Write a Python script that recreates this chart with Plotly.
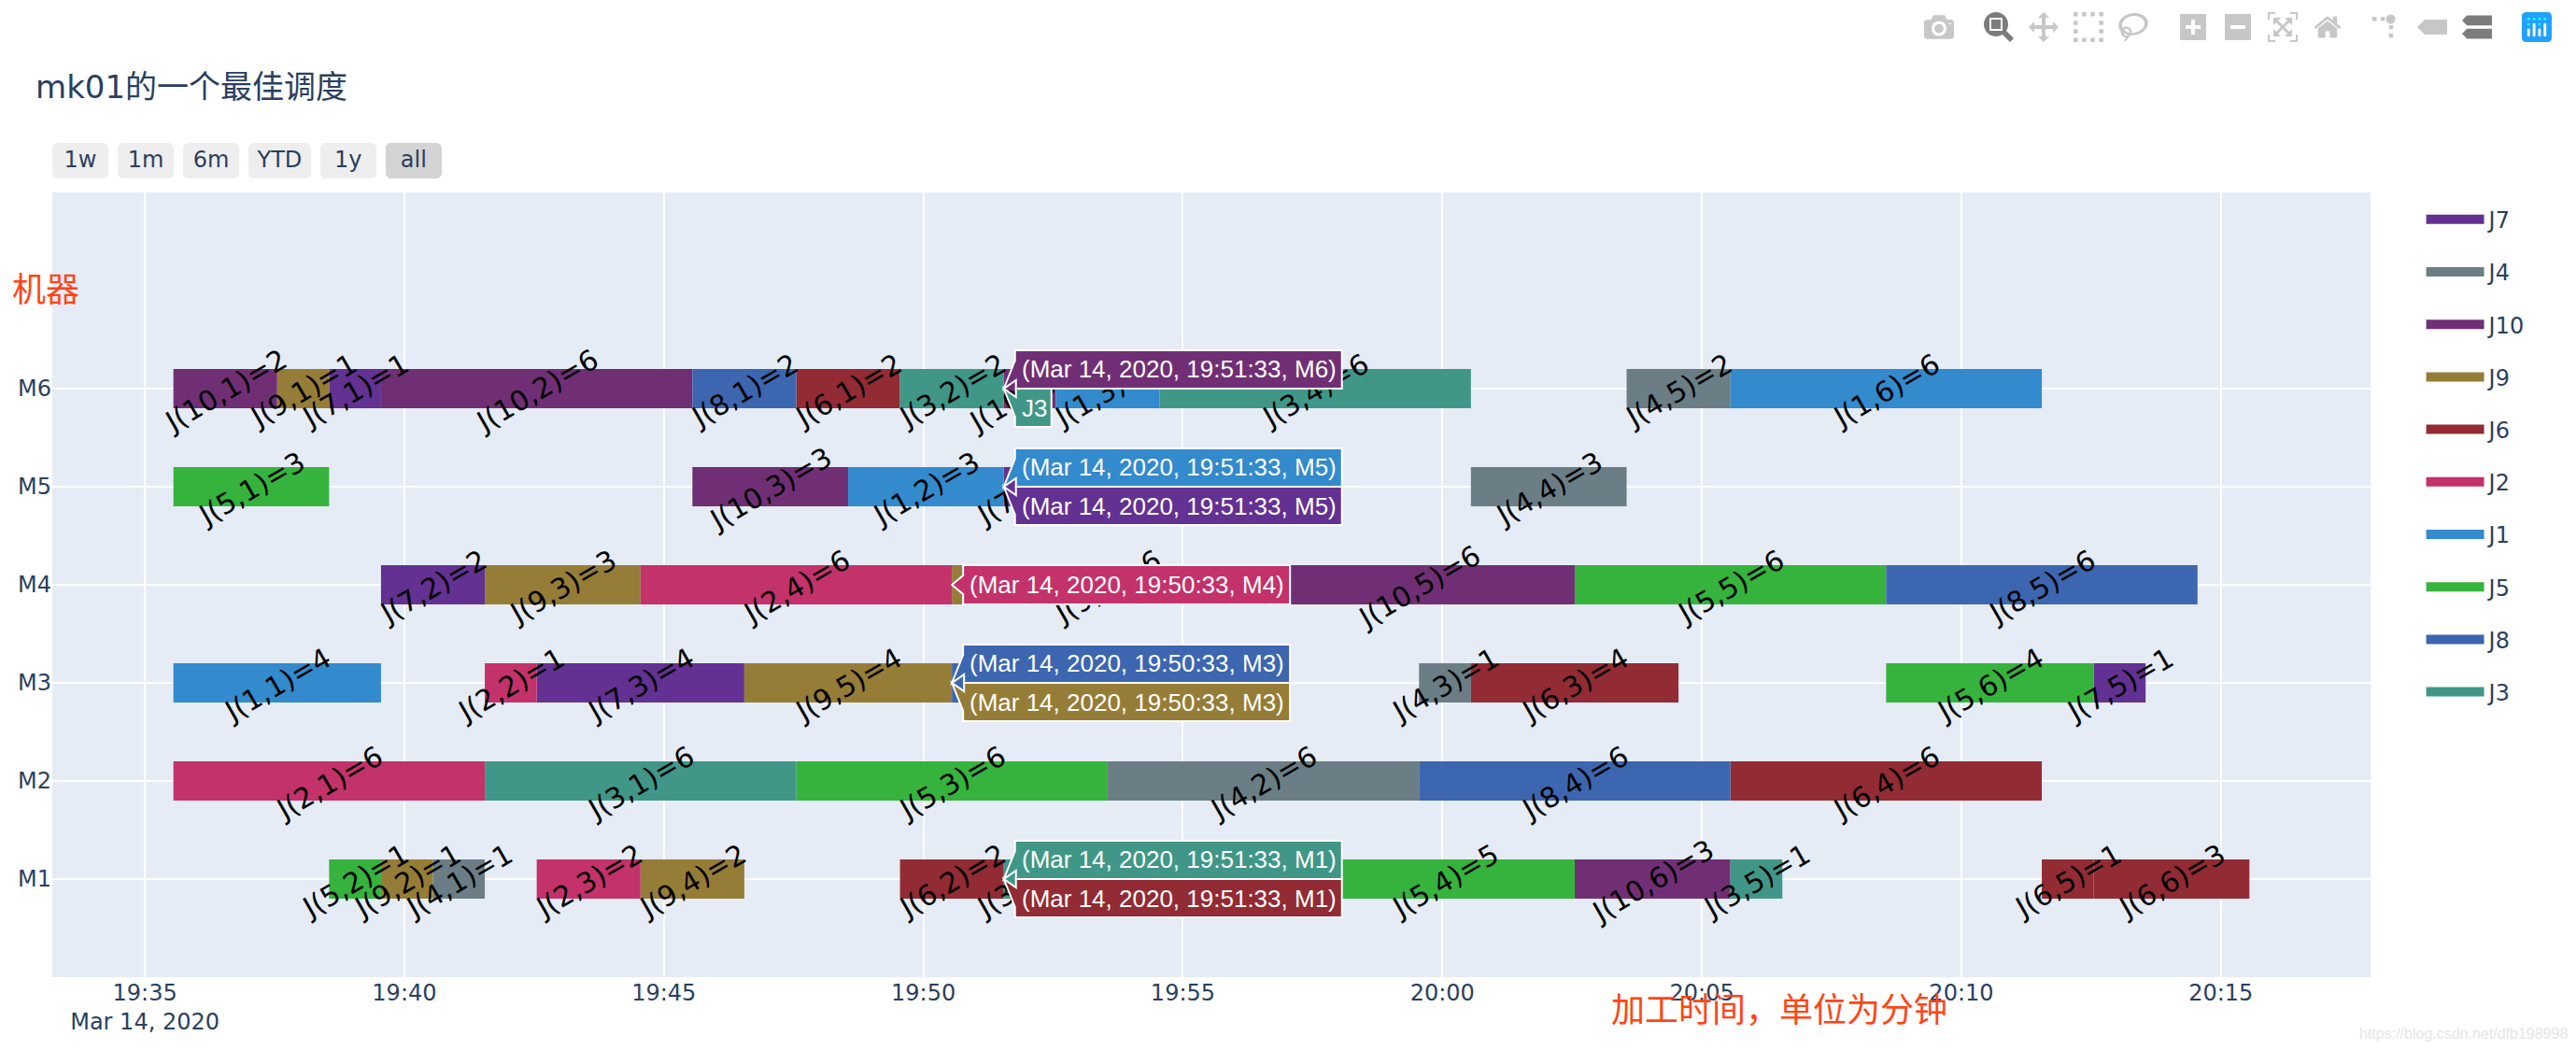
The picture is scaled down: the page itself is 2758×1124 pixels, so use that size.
import pandas as pd
import plotly.graph_objects as go

# schedule: one entry per operation (hidden ones under the hover boxes are estimated)
start_time = pd.Timestamp("2020-03-14 19:35:33")
machines = ["M1", "M2", "M3", "M4", "M5", "M6"]
legend_order = [7, 4, 10, 9, 6, 2, 1, 5, 8, 3]
job_colors = {7: "#633192", 4: "#6b7e85", 10: "#702f75", 9: "#967d37", 6: "#922b34",
              2: "#c3326a", 1: "#338acc", 5: "#36b33c", 8: "#3d66b0", 3: "#409788"}

op_jobs = [10, 9, 7, 10, 8, 6, 3, 10, 1, 3, 4, 1,
           5, 10, 1, 7, 4,
           7, 9, 2, 9, 10, 5, 8,
           1, 2, 7, 9, 8, 4, 6, 5, 7,
           2, 3, 5, 4, 8, 6,
           5, 9, 4, 2, 9, 6, 3, 5, 10, 3, 6, 6]
op_steps = [1, 1, 1, 2, 1, 1, 2, 4, 3, 4, 5, 6,
            1, 3, 2, 4, 4,
            2, 3, 4, 6, 5, 5, 5,
            1, 2, 3, 5, 2, 3, 3, 6, 5,
            1, 1, 3, 2, 4, 4,
            2, 2, 1, 3, 4, 2, 3, 4, 6, 5, 5, 6]
op_machines = ["M6"] * 12 + ["M5"] * 5 + ["M4"] * 7 + ["M3"] * 9 + ["M2"] * 6 + ["M1"] * 12
op_starts = [0, 2, 3, 4, 10, 12, 14, 16, 17, 19, 28, 30,
             0, 10, 13, 16, 25,
             4, 6, 9, 15, 21, 27, 33,
             0, 6, 7, 11, 15, 24, 25, 33, 37,
             0, 6, 12, 18, 24, 30,
             3, 4, 5, 7, 9, 14, 16, 22, 27, 30, 36, 37]
op_durations = [2, 1, 1, 6, 2, 2, 2, 1, 2, 6, 2, 6,
                3, 3, 3, 1, 3,
                2, 3, 6, 6, 6, 6, 6,
                4, 1, 4, 4, 6, 1, 4, 4, 1,
                6, 6, 6, 6, 6, 6,
                1, 1, 1, 2, 2, 2, 1, 5, 3, 1, 1, 3]
# this one sits entirely under a hover box in the screenshot
unlabelled_ops = [(8, 2)]

# frozen hover labels from the screenshot
hover_minutes = [16, 16, 16, 16, 15, 15, 15, 16, 16]
hover_machines = ["M6", "M6", "M5", "M5", "M4", "M3", "M3", "M1", "M1"]
hover_jobs = [10, 3, 1, 7, 2, 8, 9, 3, 6]
hover_sides = ["up", "down", "up", "down", "mid", "up", "down", "up", "down"]
hover_texts = ["(Mar 14, 2020, 19:51:33, M6)", "J3",
               "(Mar 14, 2020, 19:51:33, M5)", "(Mar 14, 2020, 19:51:33, M5)",
               "(Mar 14, 2020, 19:50:33, M4)",
               "(Mar 14, 2020, 19:50:33, M3)", "(Mar 14, 2020, 19:50:33, M3)",
               "(Mar 14, 2020, 19:51:33, M1)", "(Mar 14, 2020, 19:51:33, M1)"]

axis_start = "2020-03-14 19:33:13"
axis_end = "2020-03-14 20:17:53"

FONT = "DejaVu Sans, Noto Sans CJK SC, sans-serif"
HOVER_FONT = "Liberation Sans, Arial, sans-serif"
INK = "#2a3f5f"


def at(minutes):
    return start_time + pd.Timedelta(minutes=minutes)


fig = go.Figure()

for job in legend_order:
    idx = [i for i, j in enumerate(op_jobs) if j == job]
    fig.add_trace(go.Bar(
        y=[op_machines[i] for i in idx],
        x=[op_durations[i] * 60000 for i in idx],
        base=[at(op_starts[i]) for i in idx],
        orientation="h",
        width=0.4,
        marker=dict(color=job_colors[job], line_width=0),
        legendgroup=f"J{job}",
        showlegend=False,
        hoverinfo="skip",
    ))
    # bar swatches in the legend are small squares, so the legend uses a thick line
    fig.add_trace(go.Scatter(
        x=[None], y=[None], mode="lines", name=f"J{job}",
        line=dict(color=job_colors[job], width=12),
        legendgroup=f"J{job}",
    ))

shapes = []
for j, k, m, s, d in zip(op_jobs, op_steps, op_machines, op_starts, op_durations):
    if (j, k) in unlabelled_ops:
        continue
    shapes.append(dict(
        type="rect", xref="x", yref="y", x0=at(s), x1=at(s + d), y0=m, y1=m,
        line_width=0, fillcolor="rgba(0,0,0,0)", layer="above",
        label=dict(text=f"J({j},{k})={d}", textangle=-30, textposition="middle center",
                   font=dict(family=FONT, size=30, color="black")),
    ))

annotations = []
for t, m, j, side, text in zip(hover_minutes, hover_machines, hover_jobs, hover_sides, hover_texts):
    right = 51 if text == "J3" else 362
    if side == "up":
        path = f"M0,0 L12,30 V41 H{right} V0 H13 V9 Z"
        shift = 21
    elif side == "down":
        path = f"M0,0 L12,-30 V-41 H{right} V0 H13 V-9 Z"
        shift = -21
    else:
        path = f"M0,0 L12,10 V21 H{right} V-21 H12 V-10 Z"
        shift = 0
    shapes.append(dict(
        type="path", xref="x", yref="y", xsizemode="pixel", ysizemode="pixel",
        xanchor=at(t), yanchor=m, path=path, fillcolor=job_colors[j],
        line=dict(color="white", width=2), layer="above",
    ))
    annotations.append(dict(
        x=at(t), y=m, xref="x", yref="y", text=text, showarrow=False,
        xanchor="left", yanchor="middle", xshift=17, yshift=shift,
        font=dict(family=HOVER_FONT, size=26, color="white"),
    ))

annotations += [
    dict(text="机器", xref="paper", yref="paper", x=-0.003, y=0.876, showarrow=False,
         xanchor="center", yanchor="middle",
         font=dict(family=FONT, size=36, color="#ff4516")),
    dict(text="加工时间，单位为分钟", xref="paper", yref="paper", x=0.745, y=-0.042, showarrow=False,
         xanchor="center", yanchor="middle",
         font=dict(family=FONT, size=36, color="#ff4516")),
    dict(text="https://blog.csdn.net/dfb198998", xref="paper", yref="paper", x=1.04, y=-0.072,
         showarrow=False, xanchor="center", yanchor="middle",
         font=dict(family=HOVER_FONT, size=16, color="#e6e6e6")),
]

fig.update_layout(
    width=2758,
    height=1124,
    margin=dict(l=56, r=220, t=206, b=78),
    title=dict(text="mk01的一个最佳调度", x=0.0138, xanchor="left", y=0.917, yanchor="middle",
               font=dict(family=FONT, size=34, color=INK)),
    font=dict(family=FONT, size=24, color=INK),
    paper_bgcolor="white",
    plot_bgcolor="#E5ECF6",
    barmode="overlay",
    hovermode="x",
    dragmode="zoom",
    shapes=shapes,
    annotations=annotations,
    legend=dict(x=1.022, y=0.992, itemwidth=62, tracegroupgap=22, font=dict(size=24)),
    xaxis=dict(
        type="date",
        autorange=True,
        autorangeoptions=dict(include=[axis_start, axis_end]),
        dtick=300000,
        gridcolor="white",
        gridwidth=2,
        zeroline=False,
        rangeselector=dict(
            x=0, y=1.022, yanchor="bottom",
            font=dict(family=FONT, size=24, color=INK),
            buttons=[
                dict(count=7, label="1w", step="day", stepmode="backward"),
                dict(count=1, label="1m", step="month", stepmode="backward"),
                dict(count=6, label="6m", step="month", stepmode="backward"),
                dict(count=1, label="YTD", step="year", stepmode="todate"),
                dict(count=1, label="1y", step="year", stepmode="backward"),
                dict(label="all", step="all"),
            ],
        ),
    ),
    yaxis=dict(
        type="category",
        categoryorder="array",
        categoryarray=machines,
        range=[-1, 7],
        gridcolor="white",
        gridwidth=2,
        zeroline=False,
    ),
)

config = dict(
    displayModeBar=True,
    displaylogo=True,
    modeBarButtons=[
        ["toImage"],
        ["zoom2d", "pan2d", "select2d", "lasso2d"],
        ["zoomIn2d", "zoomOut2d", "autoScale2d", "resetScale2d"],
        ["toggleSpikelines", "hoverClosestCartesian", "hoverCompareCartesian"],
    ],
)

# the screenshot was a 2x retina capture: double the modebar, size the range buttons to match
page_css = """
document.body.style.margin = '0';
var css = document.createElement('style');
css.textContent = '.modebar{transform:scale(2);transform-origin:top right;right:18px !important;top:7px !important}'
  + '.rangeselector rect{rx:6px;ry:6px}';
document.head.appendChild(css);
var left = 0;
document.querySelectorAll('.rangeselector .button').forEach(function (b) {
  var m = (b.getAttribute('transform') || '').match(/translate\\(([-\\d.]+)[ ,]+([-\\d.]+)\\)/);
  var r = b.querySelector('rect'), t = b.querySelector('text');
  if (!r || !t) return;
  var w = Math.max(60, t.getComputedTextLength() + 19);
  r.setAttribute('width', w);
  r.setAttribute('height', 38);
  t.setAttribute('x', w / 2);
  t.setAttribute('y', parseFloat(t.getAttribute('y') || 0) + 6);
  b.setAttribute('transform', 'translate(' + left + ',' + (m ? m[2] : 0) + ')');
  left += w + 10;
});
document.querySelectorAll('.modebar-btn--logo svg rect, .modebar-btn--logo svg path, .modebar-btn--logo svg circle').forEach(function (el) {
  var f = getComputedStyle(el).fill;
  if (f === 'rgb(0, 0, 0)') el.style.fill = '#21a1ff';
  else if (f !== 'rgb(255, 255, 255)' && f !== 'none') el.style.fill = '#25fefd';
});
"""

fig.write_html("out.html", config=config, post_script=page_css)
